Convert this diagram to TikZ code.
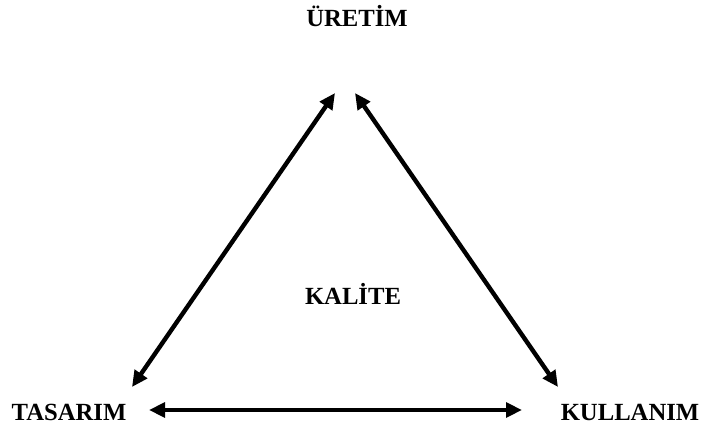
\documentclass[tikz,border=0pt]{standalone}
\usepackage{fontspec}
\setmainfont{Liberation Serif}
\usetikzlibrary{arrows.meta}

\begin{document}
\begin{tikzpicture}[
  x=0.75pt, y=-0.75pt,
  lbl/.style={font=\bfseries\fontsize{18.5}{21}\selectfont, inner sep=0pt, anchor=base},
  link/.style={{Triangle[length=12pt, width=11pt]}-{Triangle[length=12pt, width=11pt]}, line width=3.3pt},
]
  \useasboundingbox (0,0) rectangle (702,427);

  % Labels
  \node[lbl] (uretim) at (357,27) {ÜRETİM};
  \node[lbl] (kalite) at (353,305) {KALİTE};
  \node[lbl] (tasarim) at (69,420) {TASARIM};
  \node[lbl] (kullanim) at (630,420) {KULLANIM};

  % Arrow end points
  \coordinate (ul) at (335,93);
  \coordinate (ur) at (355,93);
  \coordinate (tl) at (132,387);
  \coordinate (kr) at (558,387);
  \coordinate (bl) at (149,410);
  \coordinate (br) at (522,410);

  % Arrows
  \draw[link] (tl) -- (ul);
  \draw[link] (ur) -- (kr);
  \draw[link] (bl) -- (br);
\end{tikzpicture}
\end{document}
